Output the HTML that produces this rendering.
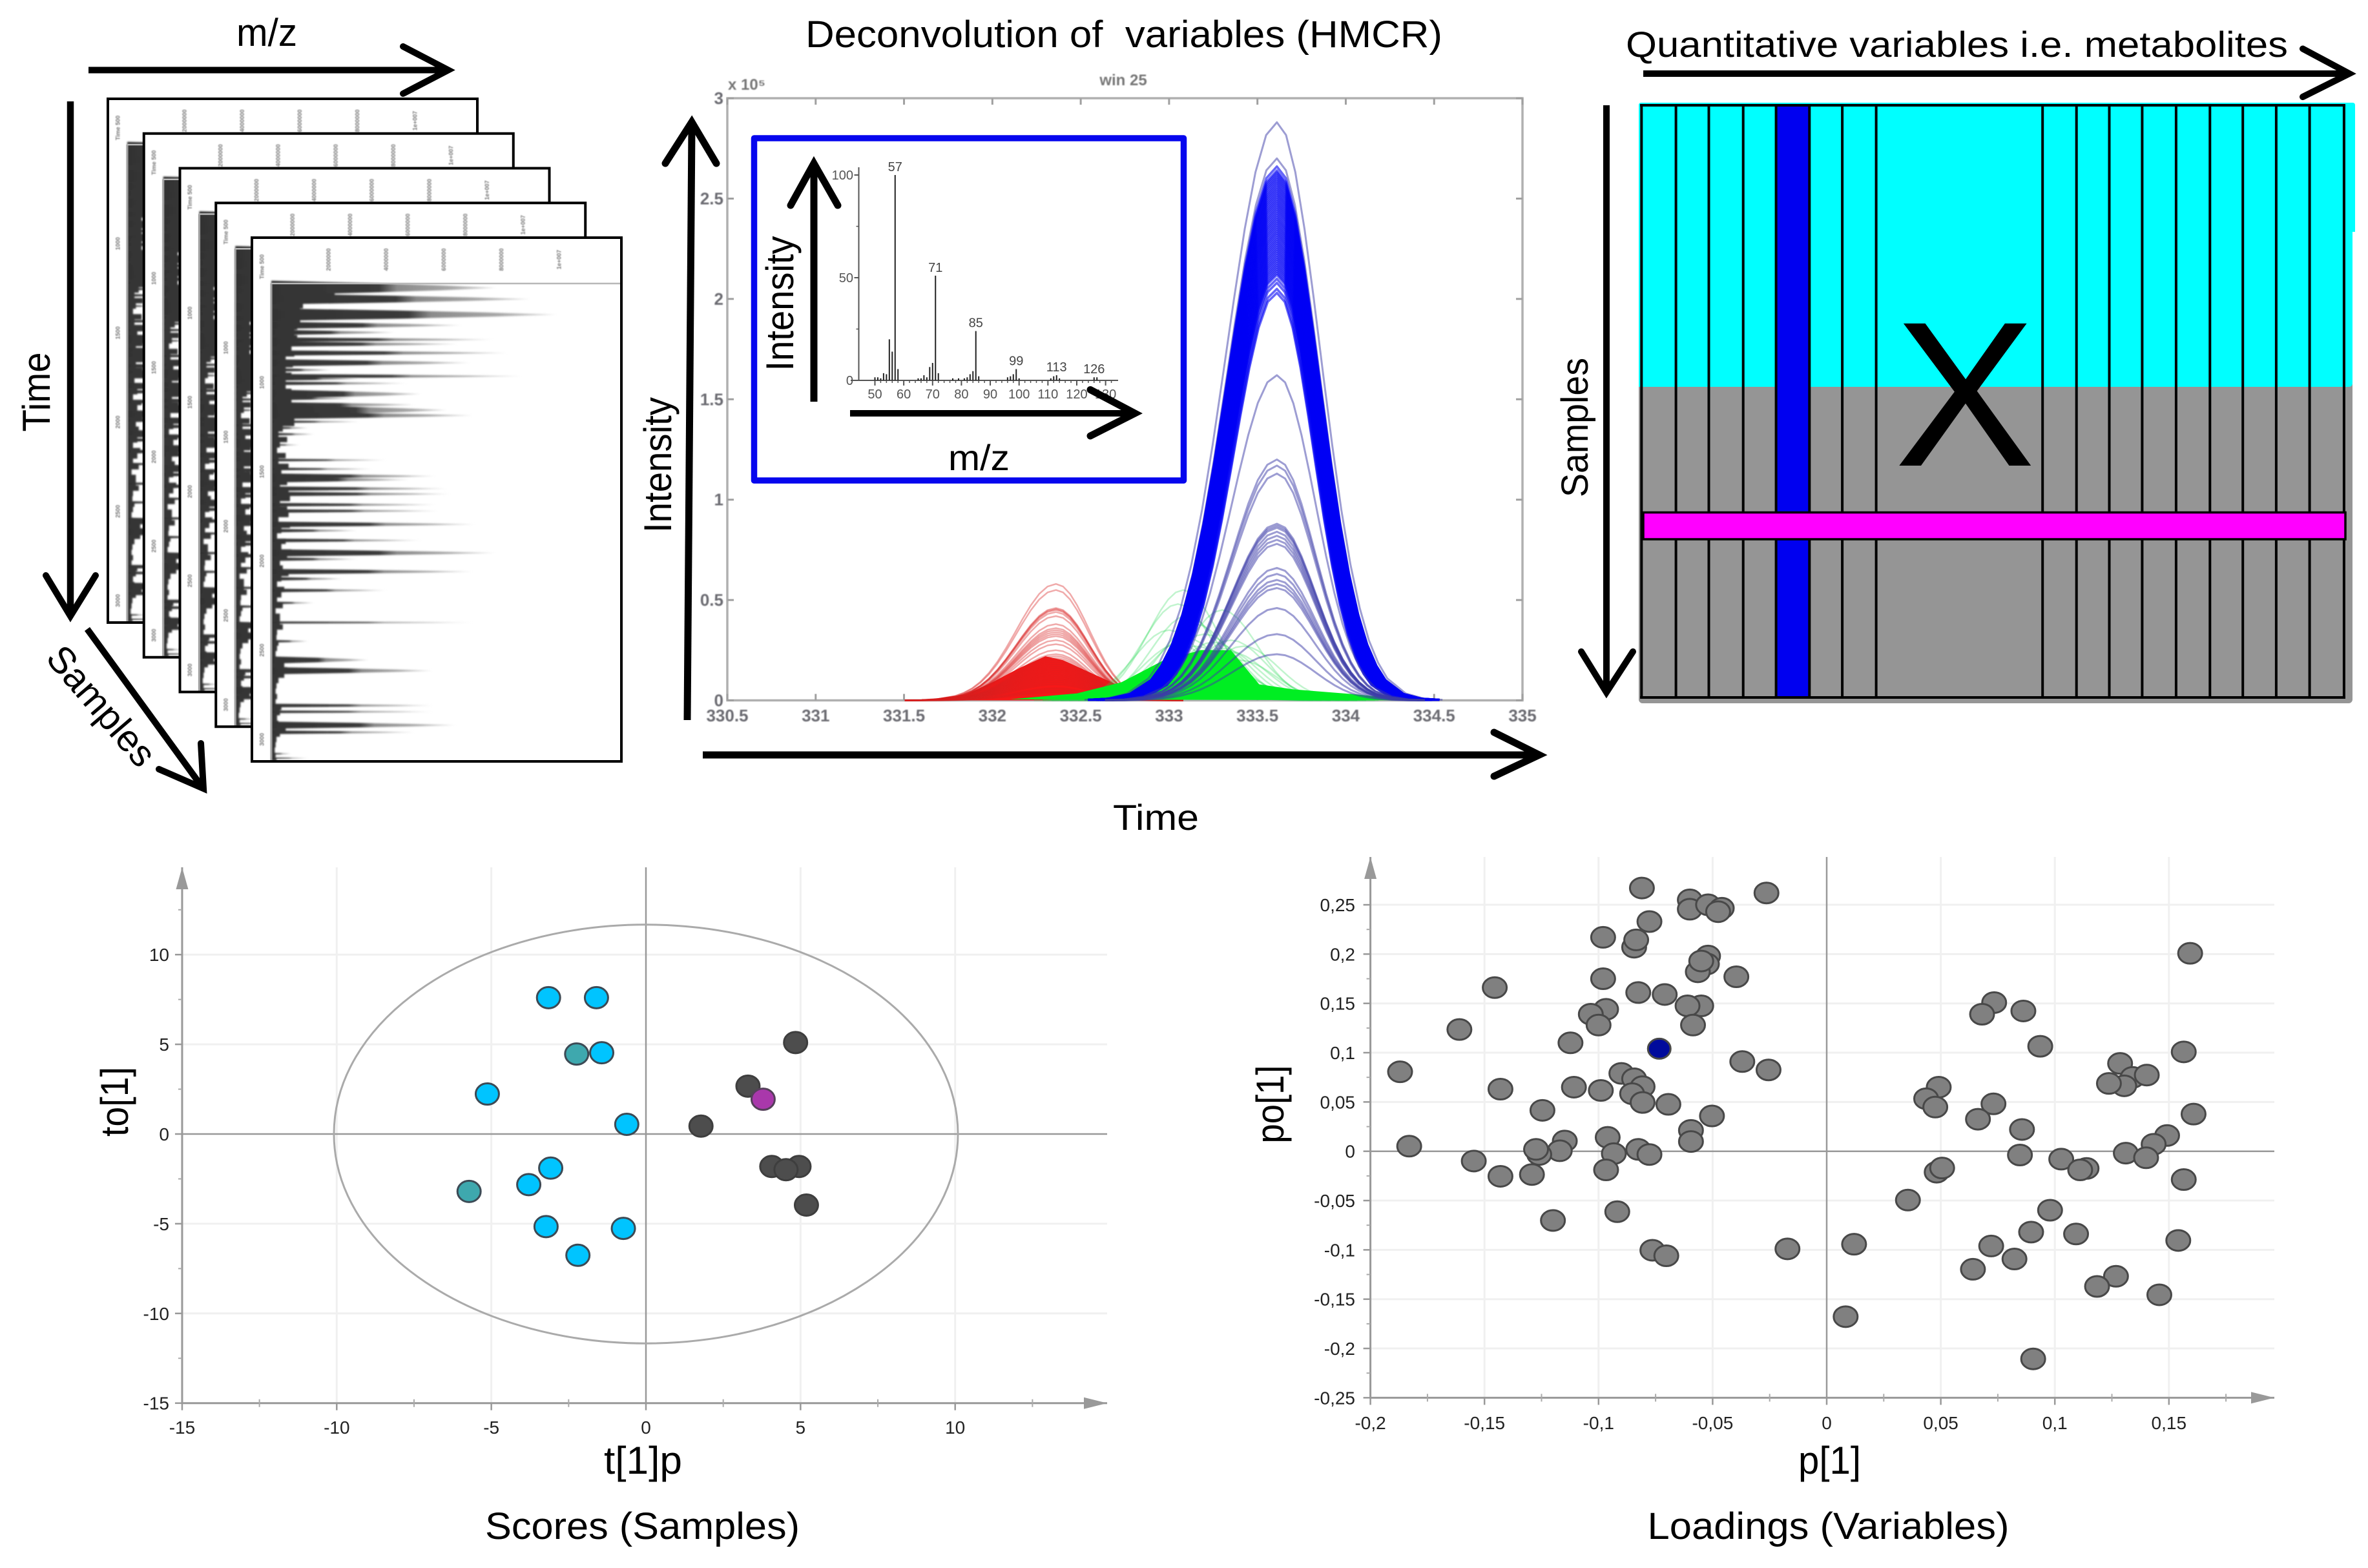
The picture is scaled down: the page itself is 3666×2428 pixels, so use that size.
<!DOCTYPE html>
<html lang="en">
<head>
<meta charset="utf-8">
<title>Metabolomics workflow figure</title>
<style>
html,body{margin:0;padding:0;background:#fff;}
svg{display:block;font-family:"Liberation Sans",Arial,sans-serif;}
.arrow{fill:none;stroke:#000;stroke-linecap:round;stroke-linejoin:miter;}
.shaft{fill:none;stroke:#000;stroke-linecap:butt;}
</style>
</head>
<body>
<svg id="figure" xmlns="http://www.w3.org/2000/svg" width="3666" height="2428" viewBox="0 0 3666 2428">
<defs>
<linearGradient id="spikeFade" x1="0" y1="0" x2="1" y2="0">
<stop offset="0" stop-color="#333"/><stop offset="0.48" stop-color="#3a3a3a"/><stop offset="0.56" stop-color="#8a8a8a"/><stop offset="0.8" stop-color="#a8a8a8"/><stop offset="1" stop-color="#dcdcdc"/>
</linearGradient>
<filter id="softBlur" x="-2%" y="-2%" width="104%" height="104%"><feGaussianBlur stdDeviation="1.2"/></filter>
<filter id="softBlurText" x="-5%" y="-5%" width="110%" height="110%"><feGaussianBlur stdDeviation="0.7"/></filter>
</defs>

<!-- Raw data stack -->
<g id="stack"></g>
<text x="366" y="71" font-size="60" textLength="94" lengthAdjust="spacingAndGlyphs">m/z</text>
<g><path class="shaft" stroke-width="10" d="M137 108.5H688"/><path class="arrow" stroke-width="10" d="M624 72L694 108.5L624 145"/></g>
<text transform="translate(77,607) rotate(-90)" text-anchor="middle" font-size="60" textLength="123" lengthAdjust="spacingAndGlyphs">Time</text>
<g><path class="shaft" stroke-width="10.5" d="M109 157V948"/><path class="arrow" stroke-width="10" d="M71 891L109 954L148 891"/></g>
<g><path class="shaft" stroke-width="10" d="M135 974L311 1216"/><path class="arrow" stroke-width="10" d="M246 1191L315 1221L311 1151"/></g>
<text transform="translate(142,1106) rotate(49.5)" text-anchor="middle" font-size="58" textLength="225" lengthAdjust="spacingAndGlyphs">Samples</text>

<!-- HMCR -->
<text x="1247" y="73" font-size="58" textLength="986" lengthAdjust="spacingAndGlyphs" xml:space="preserve">Deconvolution of  variables (HMCR)</text>
<g id="hmcr"></g>
<g><path class="shaft" stroke-width="11" d="M1064 1115L1071 197"/><path class="arrow" stroke-width="11" d="M1030 253L1071 189L1109 253"/></g>
<g><path class="shaft" stroke-width="11" d="M1088 1169H2376"/><path class="arrow" stroke-width="11" d="M2313 1134L2383 1169L2313 1202"/></g>
<text transform="translate(1039,720) rotate(-90)" text-anchor="middle" font-size="60" textLength="210" lengthAdjust="spacingAndGlyphs">Intensity</text>
<text x="1723" y="1285" font-size="56" textLength="133" lengthAdjust="spacingAndGlyphs">Time</text>

<rect x="1167.5" y="214" width="665" height="530" fill="#fff" stroke="#0606ee" stroke-width="9.5" stroke-linejoin="round"/>
<g id="inset"></g>
<g><path class="shaft" stroke-width="11" d="M1260 622V258"/><path class="arrow" stroke-width="11" d="M1224 318L1260 253L1297 318"/></g>
<g><path class="shaft" stroke-width="10" d="M1316 640H1750"/><path class="arrow" stroke-width="11" d="M1688 603.5L1757 640L1688 675"/></g>
<text transform="translate(1228,470) rotate(-90)" text-anchor="middle" font-size="60" textLength="209" lengthAdjust="spacingAndGlyphs">Intensity</text>
<text x="1468" y="728" font-size="56" textLength="95" lengthAdjust="spacingAndGlyphs">m/z</text>

<!-- Data matrix -->
<text x="2517" y="88" font-size="56" textLength="1025" lengthAdjust="spacingAndGlyphs">Quantitative variables i.e. metabolites</text>
<g><path class="shaft" stroke-width="10" d="M2544 114H3630"/><path class="arrow" stroke-width="10" d="M3565 75.5L3637 114L3565 150"/></g>
<g>
<rect x="2537" y="590" width="1105" height="499" rx="6" fill="#959595"/>
<path d="M2537 599V163Q2537 159 2541 159H3642Q3646 159 3646 163V359H3642V593Q3642 599 3636 599Z" fill="#00ffff"/>
<rect x="2749.6" y="163" width="51.7" height="917" fill="#0000f0"/>
<g stroke="#000" stroke-width="4">
<line x1="2541.3" x2="2541.3" y1="163" y2="1080"/><line x1="2594.6" x2="2594.6" y1="163" y2="1080"/><line x1="2645.5" x2="2645.5" y1="163" y2="1080"/><line x1="2698.7" x2="2698.7" y1="163" y2="1080"/><line x1="2749.6" x2="2749.6" y1="163" y2="1080"/><line x1="2801.3" x2="2801.3" y1="163" y2="1080"/><line x1="2852.1" x2="2852.1" y1="163" y2="1080"/><line x1="2904.6" x2="2904.6" y1="163" y2="1080"/><line x1="3162.2" x2="3162.2" y1="163" y2="1080"/><line x1="3214.7" x2="3214.7" y1="163" y2="1080"/><line x1="3265.5" x2="3265.5" y1="163" y2="1080"/><line x1="3316.4" x2="3316.4" y1="163" y2="1080"/><line x1="3368.9" x2="3368.9" y1="163" y2="1080"/><line x1="3421.3" x2="3421.3" y1="163" y2="1080"/><line x1="3472.2" x2="3472.2" y1="163" y2="1080"/><line x1="3523.9" x2="3523.9" y1="163" y2="1080"/><line x1="3575.6" x2="3575.6" y1="163" y2="1080"/><line x1="3628.9" x2="3628.9" y1="163" y2="1080"/>
<line x1="2539" x2="3631" y1="163" y2="163"/><line x1="2539" x2="3631" y1="1080" y2="1080"/>
</g>
<rect x="2544" y="793.5" width="1087" height="41.5" fill="#ff00ff" stroke="#000" stroke-width="3.5"/>
<text x="3042" y="721" text-anchor="middle" font-size="320" textLength="218" lengthAdjust="spacingAndGlyphs">X</text>
</g>
<text transform="translate(2458,662) rotate(-90)" text-anchor="middle" font-size="58" textLength="216" lengthAdjust="spacingAndGlyphs">Samples</text>
<g><path class="shaft" stroke-width="10" d="M2487 163V1066"/><path class="arrow" stroke-width="10" d="M2448 1009L2487 1072L2528 1009"/></g>

<!-- Scatter plots -->
<g id="scores"></g>
<g id="loadings"></g>
<text x="935" y="2282" font-size="60" textLength="121" lengthAdjust="spacingAndGlyphs">t[1]p</text>
<text transform="translate(198,1706) rotate(-90)" text-anchor="middle" font-size="60" textLength="108" lengthAdjust="spacingAndGlyphs">to[1]</text>
<text x="751" y="2383" font-size="58" textLength="487" lengthAdjust="spacingAndGlyphs">Scores (Samples)</text>
<text x="2784" y="2282" font-size="60" textLength="97" lengthAdjust="spacingAndGlyphs">p[1]</text>
<text transform="translate(1987,1710) rotate(-90)" text-anchor="middle" font-size="60" textLength="121" lengthAdjust="spacingAndGlyphs">po[1]</text>
<text x="2550.5" y="2383" font-size="58" textLength="560" lengthAdjust="spacingAndGlyphs">Loadings (Variables)</text>
</svg>

<script>
/* ---------- raw chromatogram data ---------- */
const chromTimes = [-6,6.6,24,36,44,52,57,67,78,86,93,96,101,113,118,125,131,137,144,151,158,170,187,197,205,209,219,225,237,244,259,266,277,291,298,312,320,333,347,369,390,411,423,462,469,484,492,516,521];
const chromPeaks = [7.8,9,9.9,6.6,4.3,7.7,6.5,8.2,6.9,2.1,8.7,3.2,4.7,5.2,2.9,5,6.1,7,3.1,1.3,1.5,1,4,3.5,5.7,4.8,6.1,6.2,5.7,5.8,7.1,3,5.2,7.8,3,7,2.5,4,1.5,7,1.3,3.4,5.6,5.6,5.6,6.4,5,0.7,1.3];
const chromWidths = [8,6,7,4,3,2.5,3,3,4,2,2.5,2,2,5,2,3,6,4,1.5,1.5,1.5,1,1.5,1.5,3,3,2.5,2.5,2,2,3,2,2,4,2,3,2,2,1.5,1.2,1.5,4,4,2,1.5,4,2,1,0.8];
const chromBaseTimes = [-7,-1,5,11,17,23,29,35,41,47,53,59,65,71,77,83,89,95,101,107,113,119,125,131,137,143,149,155,161,167,173,179,185,191,197,203,209,215,221,227,233,239,245,251,257,263,269,275,281,287,293,299,305,311,317,323,329,335,341,347,353,359,365,371,377,383,389,395,401,407,413,419,425,431,437,443,449,455,461,467,473,479,485,491,497,503,509,515,521];
const chromBase = [2.6,2.2,1.7,1.1,1,1.2,1,0.9,0.8,0.9,0.75,0.7,0.8,0.5,0.75,0.5,0.7,0.5,0.5,0.7,0.75,0.7,0.8,0.9,0.8,0.8,0.4,0.25,0.55,0.3,0.2,0.5,0.25,0.6,0.35,0.2,0.55,0.3,0.6,0.65,0.3,0.55,0.6,0.25,0.65,0.35,0.2,0.5,0.35,0.7,0.55,0.3,0.4,0.6,0.35,0.2,0.45,0.35,0.2,0.4,0.15,0.3,0.3,0.4,0.2,0.18,0.25,0.2,0.15,0.2,0.45,0.55,0.45,0.25,0.18,0.15,0.2,0.15,0.35,0.3,0.2,0.25,0.5,0.3,0.18,0.15,0.12,0.15,0.18];
const chromIntensityTicks = [2,4,6,8,10];
const chromIntensityLabels = ["2000000","4000000","6000000","8000000","1e+007"];
const chromTimeTicks = [100,200,300,400,500];
const chromTimeLabels = ["1000","1500","2000","2500","3000"];

/* ---------- HMCR data ---------- */
const hmcrXTicks = [330.5,331,331.5,332,332.5,333,333.5,334,334.5,335];
const hmcrXLabels = ["330.5","331","331.5","332","332.5","333","333.5","334","334.5","335"];
const hmcrYTicks = [0,0.5,1,1.5,2,2.5,3];
const hmcrYLabels = ["0","0.5","1","1.5","2","2.5","3"];
const curveOffsets = [-0.9,-0.8,-0.7,-0.6,-0.55,-0.5,-0.45,-0.4,-0.35,-0.3,-0.25,-0.2,-0.15,-0.1,-0.05,0,0.05,0.1,0.15,0.2,0.25,0.3,0.35,0.4,0.45,0.5,0.55,0.6,0.7,0.8,0.9];
const curveShape = [0.001,0.003,0.012,0.038,0.065,0.104,0.16,0.235,0.33,0.443,0.568,0.696,0.816,0.914,0.978,1,0.978,0.914,0.816,0.696,0.568,0.443,0.33,0.235,0.16,0.104,0.065,0.038,0.012,0.003,0.001];
const blueHeights = [2.88,2.7,2.66,2.64,2.63,2.62,2.61,2.6,2.59,2.58,2.57,2.56,2.55,2.54,2.53,2.52,2.51,2.5,2.49,2.48,2.47,2.46,2.45,2.44,2.43,2.42,2.41,2.4,2.39,2.38,2.37,2.36,2.35,2.34,2.33,2.32,2.31,2.3,2.29,2.28,2.27,2.26,2.25,2.24,2.23,2.22,2.21,2.2,2.19,2.18,2.17,2.16,2.15,2.14,2.13,2.12,2.1,2.08,2.05,2.03,1.62,1.2,1.17,1.13,0.88,0.87,0.86,0.84,0.82,0.8,0.78,0.66,0.63,0.6,0.58,0.56,0.46,0.33,0.23];
const blueWidthScale = [1.12,1.1,1.1,1.1,1.1,1.1,1.1,1.1,1.1,1.09,1.09,1.09,1.09,1.08,1.08,1.08,1.08,1.07,1.07,1.07,1.07,1.06,1.06,1.06,1.06,1.05,1.05,1.05,1.05,1.04,1.04,1.04,1.04,1.03,1.03,1.03,1.03,1.02,1.02,1.02,1.02,1.01,1.01,1.01,1.01,1,1,1,1,0.99,0.99,0.99,0.99,0.98,0.98,0.98,0.97,0.97,0.96,0.96,1,1,1,1,1,1,1,1,1,1,1,1,1,1,1,1,1,1,1];
const redHeights = [0.58,0.55,0.46,0.455,0.45,0.44,0.42,0.38,0.36,0.35,0.34,0.33,0.32,0.3,0.28,0.25,0.23,0.22,0.21,0.2,0.19,0.18,0.17,0.16,0.15,0.14,0.13,0.12,0.11,0.1,0.09,0.08,0.06,0.05,0.04];
const greenCenters = [333.08,333.05,333.3,333.1,333.15,333.0,333.2,333.35,333.42,333.1,333.25,333.05,333.15,333.3,333.2,333.35,333.25,333.4,333.15,333.3];
const greenHeights = [0.55,0.48,0.45,0.42,0.38,0.35,0.33,0.3,0.27,0.31,0.29,0.28,0.27,0.26,0.25,0.24,0.22,0.2,0.18,0.16];
const greenBulkTimes = [332.1,332.48,332.73,332.97,333.18,333.35,333.51,333.7,334.06,334.4];
const greenBulkValues = [0.005,0.035,0.09,0.2,0.25,0.25,0.08,0.055,0.03,0];
const redBulkTimes = [331.6,331.85,332,332.15,332.3,332.4,332.55,332.7,332.8,332.9];
const redBulkValues = [0,0.03,0.09,0.16,0.22,0.2,0.14,0.08,0.03,0];

/* ---------- mass spectrum data ---------- */
const spectrumMz = [50,51,52,53,54,55,56,57,58,65,66,67,68,69,70,71,72,77,79,81,82,83,84,85,86,96,97,98,99,100,111,112,113,114,126,127];
const spectrumIntensity = [1.5,1.5,1,3.5,3,20,14,100,5.5,1,1,2.5,1.5,6.5,8.5,51,3.5,1,1,1,1.5,3,4.5,24,2,1.5,2,3,5.5,1,1,2,2.5,1,1.5,1.5];
const spectrumPeakMz = [57,71,85,99,113,126];
const spectrumPeakLabels = ["57","71","85","99","113","126"];
const spectrumPeakValues = [100,51,24,5.5,2.5,1.5];
const spectrumMzTicks = [50,60,70,80,90,100,110,120,130];
const spectrumMzLabels = ["50","60","70","80","90","100","110","120","130"];
const spectrumYTicks = [0,50,100];
const spectrumYLabels = ["0","50","100"];
const spectrumYMinor = [25,75];

/* ---------- scores data ---------- */
const scoreXTicks = [-15,-10,-5,0,5,10];
const scoreXLabels = ["-15","-10","-5","0","5","10"];
const scoreYTicks = [-15,-10,-5,0,5,10];
const scoreYLabels = ["-15","-10","-5","0","5","10"];
const scoreXMinor = [-12.5,-7.5,-2.5,2.5,7.5,12.5];
const scoreYMinor = [-12.5,-7.5,-2.5,2.5,7.5,12.5];
const scoreCyanT = [-3.15,-1.6,-1.43,-5.13,-0.62,-3.08,-3.79,-3.23,-0.73,-2.2];
const scoreCyanO = [7.6,7.6,4.53,2.23,0.54,-1.9,-2.82,-5.16,-5.26,-6.76];
const scoreTealT = [-2.24,-5.72];
const scoreTealO = [4.46,-3.2];
const scoreDarkT = [4.84,3.3,1.78,4.07,4.95,4.53,5.19];
const scoreDarkO = [5.1,2.67,0.44,-1.81,-1.81,-1.99,-3.96];
const scorePurpleT = [3.79];
const scorePurpleO = [1.94];
const scoreEllipse = [10.09,11.67];

/* ---------- loadings data ---------- */
const loadXTicks = [-0.2,-0.15,-0.1,-0.05,0,0.05,0.1,0.15];
const loadXLabels = ["-0,2","-0,15","-0,1","-0,05","0","0,05","0,1","0,15"];
const loadYTicks = [-0.25,-0.2,-0.15,-0.1,-0.05,0,0.05,0.1,0.15,0.2,0.25];
const loadYLabels = ["-0,25","-0,2","-0,15","-0,1","-0,05","0","0,05","0,1","0,15","0,2","0,25"];
const loadXMinor = [-0.175,-0.125,-0.075,-0.025,0.025,0.075,0.125,0.175];
const loadYMinor = [-0.225,-0.175,-0.125,-0.075,-0.025,0.025,0.075,0.125,0.175,0.225];
const loadP = [-0.081,-0.0264,-0.06,-0.06,-0.052,-0.046,-0.0476,-0.0777,-0.098,-0.0844,-0.0835,-0.052,-0.0525,-0.0565,-0.055,-0.098,-0.0396,-0.1455,-0.0826,-0.071,-0.055,-0.061,-0.0967,-0.1034,-0.1,-0.0586,-0.161,-0.1123,-0.187,-0.037,-0.0255,-0.09,-0.0844,-0.0807,-0.0853,-0.1108,-0.143,-0.099,-0.0807,-0.0694,-0.1246,-0.0503,-0.0595,-0.0595,-0.096,-0.1148,-0.117,-0.126,-0.1274,-0.183,-0.0933,-0.0826,-0.0777,-0.1547,-0.143,-0.1292,-0.0967,-0.0918,-0.12,-0.0764,-0.0703,-0.0172,0.1593,0.0734,0.0681,0.0862,0.0936,0.1565,0.1286,0.1341,0.1403,0.1304,0.1237,0.0491,0.0436,0.0476,0.0731,0.0663,0.1608,0.0856,0.1492,0.1433,0.0847,0.1028,0.1311,0.14,0.0482,0.0506,0.1139,0.1111,0.1565,0.0356,0.0979,0.0896,0.1093,0.1541,0.012,0.0721,0.0823,0.0641,0.1268,0.1185,0.1458,0.0083,0.0905];
const loadPo = [0.267,0.262,0.255,0.2455,0.25,0.2465,0.243,0.233,0.217,0.207,0.2144,0.198,0.19,0.182,0.193,0.175,0.177,0.166,0.161,0.159,0.1475,0.1475,0.144,0.139,0.128,0.128,0.1235,0.11,0.0806,0.091,0.0825,0.079,0.0735,0.0655,0.0584,0.065,0.063,0.0617,0.0495,0.0476,0.0415,0.0358,0.0212,0.0099,0.0141,0.0104,0.0005,-0.0033,0.0019,0.0052,-0.0024,0.0019,-0.0033,-0.0099,-0.0254,-0.0236,-0.0189,-0.0613,-0.0702,-0.1004,-0.106,-0.099,0.2008,0.1508,0.139,0.1423,0.1065,0.1008,0.0891,0.0749,0.0773,0.0664,0.0688,0.065,0.0533,0.0448,0.0481,0.0325,0.0377,0.0221,0.016,0.0071,-0.0038,-0.008,-0.0019,-0.0066,-0.0212,-0.017,-0.0174,-0.0189,-0.0287,-0.0495,-0.0598,-0.082,-0.0839,-0.0905,-0.0943,-0.0961,-0.1093,-0.1197,-0.1268,-0.1371,-0.1456,-0.1678,-0.2106];
const loadSelectedP = [-0.0734];
const loadSelectedPo = [0.104];

/* ---------- helpers ---------- */
const NS = 'http://www.w3.org/2000/svg';
function mk(parent, tag, attrs, txt) {
  const el = document.createElementNS(NS, tag);
  for (const k in attrs) el.setAttribute(k, attrs[k]);
  if (txt !== undefined) el.textContent = txt;
  parent.appendChild(el);
  return el;
}

/* ---------- raw stack ---------- */
(function () {
  const root = document.getElementById('stack');
  for (let f = 0; f < 5; f++) {
    const fx = 167 + 55.75 * f, fy = 153 + 53.75 * f;
    const w = 572, h = 811;
    const xI = v => fx + 30 + v * 44.6;
    const yT = t => fy + 86 + t * 1.382;
    const g = mk(root, 'g', {});
    
    
    const bg = mk(g, 'rect', {x: fx, y: fy, width: w, height: h, fill: '#fff'});
    
    
    const inner = mk(g, 'g', {filter: 'url(#softBlur)'});
    
    
    const lastT = chromBaseTimes[chromBaseTimes.length - 1] + 3;
    let d = 'M' + xI(0) + ' ' + yT(chromBaseTimes[0]);
    for (let i = 0; i < chromBase.length; i++) {
      const next = i + 1 < chromBaseTimes.length ? chromBaseTimes[i + 1] : lastT;
      d += 'L' + xI(chromBase[i]) + ' ' + yT(chromBaseTimes[i]) + 'L' + xI(chromBase[i]) + ' ' + yT(next);
    }
    d += 'L' + xI(0) + ' ' + yT(lastT) + 'Z';
    const base = mk(inner, 'path', {d: d, fill: '#363636'});
    
    
    chromTimes.forEach((t, i) => {
      const x0 = xI(0), x1 = xI(chromPeaks[i]), y = yT(t), w2 = chromWidths[i] * 1.382, L = x1 - x0;
      const s = mk(inner, 'polygon', {points: [x0, y - w2, x0 + 0.45 * L, y - 0.65 * w2, x0 + 0.75 * L, y - 0.35 * w2, x1, y, x0 + 0.75 * L, y + 0.35 * w2, x0 + 0.45 * L, y + 0.65 * w2, x0, y + w2].join(' '), fill: 'url(#spikeFade)'});
      
      
    });
    const axY = mk(g, 'path', {d: 'M' + xI(0) + ' ' + (fy + 71) + 'V' + (fy + h), stroke: '#a0a0a0', 'stroke-width': 3, fill: 'none'});
    
    
    const axX = mk(g, 'path', {d: 'M' + xI(0) + ' ' + (fy + 71) + 'H' + (fx + w), stroke: '#b8b8b8', 'stroke-width': 2.5, fill: 'none'});
    
    
    chromIntensityTicks.forEach((v, i) => {
      const x = xI(v), y = fy + 34;
      const lab = mk(g, 'text', {transform: 'translate(' + x + ',' + y + ') rotate(-90)', 'text-anchor': 'middle', 'dominant-baseline': 'middle', 'font-size': 9, 'font-weight': 'bold', fill: '#777', filter: 'url(#softBlurText)'}, chromIntensityLabels[i]);
      
      
    });
    chromTimeTicks.forEach((v, i) => {
      const lab = mk(g, 'text', {transform: 'translate(' + (fx + 16) + ',' + yT(v) + ') rotate(-90)', 'text-anchor': 'middle', 'dominant-baseline': 'middle', 'font-size': 9, 'font-weight': 'bold', fill: '#777', filter: 'url(#softBlurText)'}, chromTimeLabels[i]);
      
      
    });
    const topLab = mk(g, 'text', {transform: 'translate(' + (fx + 16) + ',' + (fy + 45) + ') rotate(-90)', 'text-anchor': 'middle', 'dominant-baseline': 'middle', 'font-size': 9, 'font-weight': 'bold', fill: '#777', filter: 'url(#softBlurText)'}, 'Time 500');
    
    
    const border = mk(g, 'rect', {x: fx, y: fy, width: w, height: h, fill: 'none', stroke: '#000', 'stroke-width': 4});
    
    
  }
})();

/* ---------- HMCR ---------- */
(function () {
  const root = document.getElementById('hmcr');
  const xT = t => 1126 + (t - 330.5) * 273.56;
  const yI = v => 1084.5 - v * 310.8;
  const frame = mk(root, 'rect', {x: xT(330.5), y: yI(3), width: xT(335) - xT(330.5), height: yI(0) - yI(3), fill: '#fff', stroke: '#b0b0b0', 'stroke-width': 3.5});
  
  
  hmcrXTicks.forEach((t, i) => {
    const tk = mk(root, 'path', {d: 'M' + xT(t) + ' ' + yI(0) + 'v-10M' + xT(t) + ' ' + yI(3) + 'v10', stroke: '#a0a0a0', 'stroke-width': 3});
    
    
    const l = mk(root, 'text', {x: xT(t), y: 1117, 'text-anchor': 'middle', 'font-size': 26, 'font-weight': 'bold', fill: '#6c6c72', filter: 'url(#softBlurText)'}, hmcrXLabels[i]);
    
    
  });
  hmcrYTicks.forEach((v, i) => {
    const tk = mk(root, 'path', {d: 'M' + xT(330.5) + ' ' + yI(v) + 'h10M' + xT(335) + ' ' + yI(v) + 'h-10', stroke: '#a0a0a0', 'stroke-width': 3});
    
    
    const l = mk(root, 'text', {x: 1120, y: yI(v) + 9, 'text-anchor': 'end', 'font-size': 26, 'font-weight': 'bold', fill: '#6c6c72', filter: 'url(#softBlurText)'}, hmcrYLabels[i]);
    
    
  });
  const sc = mk(root, 'text', {x: 1127, y: 139, 'font-size': 24, 'font-weight': 'bold', fill: '#777', filter: 'url(#softBlurText)'}, 'x 10⁵');
  
  
  const wt = mk(root, 'text', {x: 1739, y: 132, 'text-anchor': 'middle', 'font-size': 24, 'font-weight': 'bold', fill: '#777', filter: 'url(#softBlurText)'}, 'win 25');
  
  

  function curve(center, h, widthLeft, widthRight) {
    return curveOffsets.map((o, i) => xT(center + o * (o < 0 ? widthLeft : widthRight)).toFixed(1) + ',' + yI(h * curveShape[i]).toFixed(1)).join(' ');
  }
  function bulk(times, vals) {
    return times.map((t, i) => xT(t).toFixed(1) + ',' + yI(vals[i]).toFixed(1)).join(' ');
  }
  const redArea = mk(root, 'polygon', {points: bulk(redBulkTimes, redBulkValues), fill: '#f51818'});
  
  
  redHeights.forEach(h => {
    const p = mk(root, 'polyline', {points: curve(332.36, h, 0.95, 0.8), fill: 'none', stroke: '#d82020', 'stroke-width': 2.5, 'stroke-opacity': 0.38, 'stroke-linejoin': 'round'});
    
    
  });
  greenHeights.forEach((h, i) => {
    const p = mk(root, 'polyline', {points: curve(greenCenters[i], h, 0.85, 0.85), fill: 'none', stroke: '#20d850', 'stroke-width': 2.5, 'stroke-opacity': 0.28, 'stroke-linejoin': 'round'});
    
    
  });
  const greenArea = mk(root, 'polygon', {points: bulk(greenBulkTimes, greenBulkValues), fill: '#00ee22'});
  
  
  blueHeights.forEach((h, i) => {
    const dense = h >= 2 && h < 2.68;
    const p = mk(root, 'polyline', {points: curve(333.61, h, 1.08 * blueWidthScale[i], 0.93 * blueWidthScale[i]), fill: 'none', stroke: dense ? '#0000f5' : '#3c3ca8', 'stroke-width': dense ? 3.6 : 3, 'stroke-opacity': dense ? 0.6 : 0.5, 'stroke-linejoin': 'round'});
    
    
  });
})();

/* ---------- Mass spectrum inset ---------- */
(function () {
  const root = document.getElementById('inset');
  const xM = m => 1354.5 + (m - 50) * 4.464;
  const yV = v => 589 - v * 3.18;
  const ax = mk(root, 'path', {d: 'M1329.5 259V589M1317 589H1731', stroke: '#555', 'stroke-width': 2, fill: 'none'});
  
  
  spectrumMzTicks.forEach((m, i) => {
    const t = mk(root, 'path', {d: 'M' + xM(m) + ' 589v8', stroke: '#555', 'stroke-width': 2});
    
    
    const l = mk(root, 'text', {x: xM(m), y: 617, 'text-anchor': 'middle', 'font-size': 20, fill: '#555'}, spectrumMzLabels[i]);
    
    
    for (let k = 2; k < 10; k += 2) {
      if (m + k > 133) continue;
      const mt = mk(root, 'path', {d: 'M' + xM(m + k) + ' 589v4', stroke: '#555', 'stroke-width': 1.5});
      
      
    }
  });
  spectrumYTicks.forEach((v, i) => {
    const t = mk(root, 'path', {d: 'M1329.5 ' + yV(v) + 'h-7', stroke: '#555', 'stroke-width': 2});
    
    
    const l = mk(root, 'text', {x: 1321, y: yV(v) + 7, 'text-anchor': 'end', 'font-size': 20, fill: '#555'}, spectrumYLabels[i]);
    
    
  });
  spectrumYMinor.forEach(v => {
    const t = mk(root, 'path', {d: 'M1329.5 ' + yV(v) + 'h-4', stroke: '#555', 'stroke-width': 1.5});
    
    
  });
  spectrumMz.forEach((m, i) => {
    const b = mk(root, 'line', {x1: xM(m), x2: xM(m), y1: yV(0), y2: yV(spectrumIntensity[i]), stroke: '#222', 'stroke-width': 2});
    
    
  });
  spectrumPeakMz.forEach((m, i) => {
    const l = mk(root, 'text', {x: xM(m), y: yV(spectrumPeakValues[i]) - 6, 'text-anchor': 'middle', 'font-size': 20, fill: '#444'}, spectrumPeakLabels[i]);
    
    
  });
})();

/* ---------- Scatter plots ---------- */
function drawAxes(root, o) {
  o.gridX.forEach(v => {
    if (v === 0) return;
    const g = mk(root, 'line', {x1: o.x(v), x2: o.x(v), y1: o.top, y2: o.bottom, stroke: '#f0f0f0', 'stroke-width': 3});
    
    
  });
  o.gridY.forEach(v => {
    if (v === 0) return;
    const g = mk(root, 'line', {x1: o.left, x2: o.right, y1: o.y(v), y2: o.y(v), stroke: '#f0f0f0', 'stroke-width': 3});
    
    
  });
  const z1 = mk(root, 'line', {x1: o.x(0), x2: o.x(0), y1: o.top, y2: o.bottom, stroke: '#999', 'stroke-width': 2.5});
  
  
  const z2 = mk(root, 'line', {x1: o.left, x2: o.right, y1: o.y(0), y2: o.y(0), stroke: '#999', 'stroke-width': 2.5});
  
  
  const ax = mk(root, 'path', {d: 'M' + o.left + ' ' + o.top + 'V' + o.bottom + 'H' + o.right, stroke: '#999', 'stroke-width': 3, fill: 'none'});
  
  
  const ah1 = mk(root, 'polygon', {points: o.left + ',' + o.top + ' ' + (o.left - 9.5) + ',' + (o.top + 34) + ' ' + (o.left + 9.5) + ',' + (o.top + 34), fill: '#999'});
  
  
  const ah2 = mk(root, 'polygon', {points: o.right + ',' + o.bottom + ' ' + (o.right - 36) + ',' + (o.bottom - 9) + ' ' + (o.right - 36) + ',' + (o.bottom + 9), fill: '#999'});
  
  
  o.xTicks.forEach((v, i) => {
    const t = mk(root, 'line', {x1: o.x(v), x2: o.x(v), y1: o.bottom, y2: o.bottom + 11, stroke: '#999', 'stroke-width': 2.5});
    
    
    const l = mk(root, 'text', {x: o.x(v), y: o.xLabelY, 'text-anchor': 'middle', 'font-size': 28, fill: '#222'}, o.xLabels[i]);
    
    
  });
  o.yTicks.forEach((v, i) => {
    const t = mk(root, 'line', {x1: o.left - 11, x2: o.left, y1: o.y(v), y2: o.y(v), stroke: '#999', 'stroke-width': 2.5});
    
    
    const l = mk(root, 'text', {x: o.yLabelX, y: o.y(v) + 10, 'text-anchor': 'end', 'font-size': 28, fill: '#222'}, o.yLabels[i]);
    
    
  });
  o.xMinor.forEach(v => {
    const t = mk(root, 'line', {x1: o.x(v), x2: o.x(v), y1: o.bottom - 6, y2: o.bottom + 6, stroke: '#aaa', 'stroke-width': 2});
    
    
  });
  o.yMinor.forEach(v => {
    const t = mk(root, 'line', {x1: o.left - 6, x2: o.left, y1: o.y(v), y2: o.y(v), stroke: '#aaa', 'stroke-width': 2});
    
    
  });
}

(function () {
  const root = document.getElementById('scores');
  const x = v => 1000 + v * 47.87;
  const y = v => 1756 - v * 27.78;
  drawAxes(root, {x: x, y: y, left: x(-15), right: 1714, top: 1343, bottom: y(-15),
    gridX: scoreXTicks.slice(1), gridY: scoreYTicks.slice(1), xTicks: scoreXTicks, xLabels: scoreXLabels,
    yTicks: scoreYTicks, yLabels: scoreYLabels, xMinor: scoreXMinor, yMinor: scoreYMinor, xLabelY: 2220, yLabelX: 262});
  const e = mk(root, 'ellipse', {cx: x(0), cy: y(0), rx: x(scoreEllipse[0]) - x(0), ry: y(0) - y(scoreEllipse[1]), fill: 'none', stroke: '#aaa', 'stroke-width': 3});
  
  
  function pts(ts, os, fill, stroke, name) {
    ts.forEach((t, i) => {
      const p = mk(root, 'ellipse', {cx: x(t), cy: y(os[i]), rx: 18, ry: 16.5, fill: fill, stroke: stroke, 'stroke-width': 3});
      
      
    });
  }
  pts(scoreCyanT, scoreCyanO, '#00c4ff', '#3c4a55', 'score-point-cyan');
  pts(scoreTealT, scoreTealO, '#3ea8ae', '#3c4a55', 'score-point-teal');
  pts(scoreDarkT, scoreDarkO, '#4d4d4d', '#3e3e3e', 'score-point-dark');
  pts(scorePurpleT, scorePurpleO, '#a938ab', '#55405a', 'score-point-selected');
})();

(function () {
  const root = document.getElementById('loadings');
  const x = v => 2828 + v * 3532;
  const y = v => 1782.7 - v * 1526.6;
  drawAxes(root, {x: x, y: y, left: x(-0.2), right: 3521, top: 1327, bottom: y(-0.25),
    gridX: loadXTicks.slice(1), gridY: loadYTicks.slice(1), xTicks: loadXTicks, xLabels: loadXLabels,
    yTicks: loadYTicks, yLabels: loadYLabels, xMinor: loadXMinor, yMinor: loadYMinor, xLabelY: 2213, yLabelX: 2098});
  loadP.forEach((p, i) => {
    const el = mk(root, 'ellipse', {cx: x(p), cy: y(loadPo[i]), rx: 18.5, ry: 16, fill: '#808080', stroke: '#484848', 'stroke-width': 3});
    
    
  });
  loadSelectedP.forEach((p, i) => {
    const el = mk(root, 'ellipse', {cx: x(p), cy: y(loadSelectedPo[i]), rx: 17.5, ry: 15.5, fill: '#000a9c', stroke: '#484848', 'stroke-width': 3});
    
    
  });
})();
</script>
</body>
</html>
